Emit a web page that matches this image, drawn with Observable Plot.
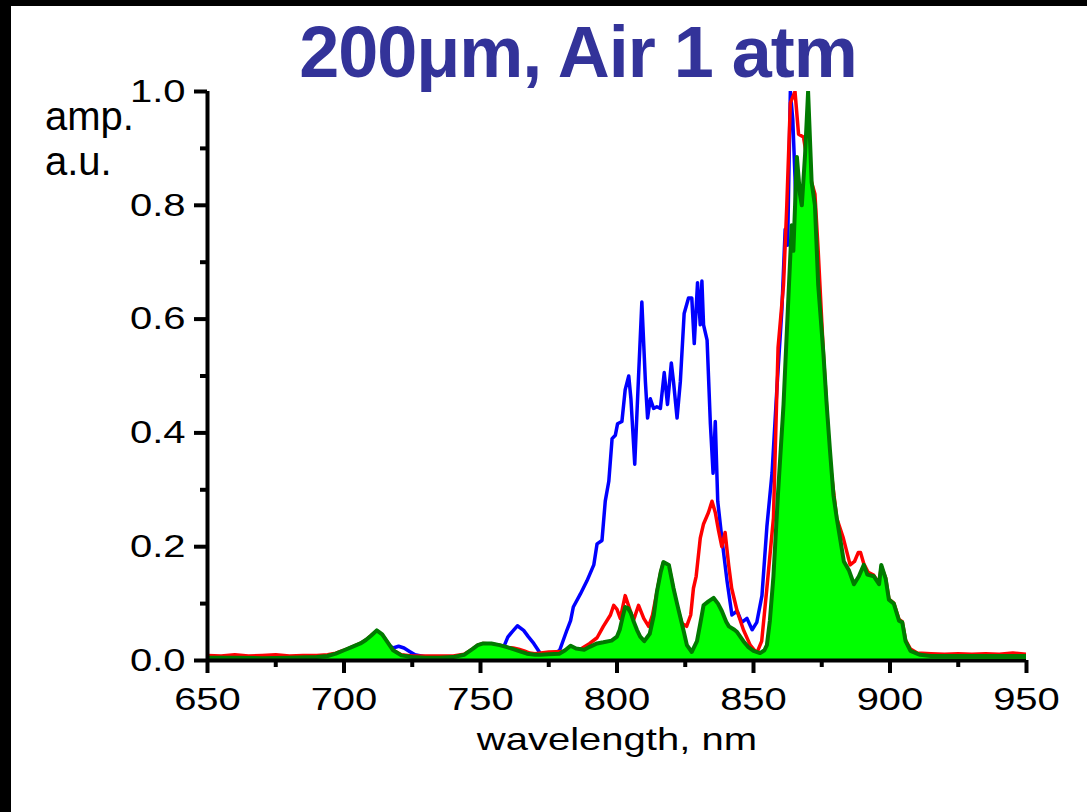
<!DOCTYPE html>
<html>
<head>
<meta charset="utf-8">
<script src="https://cdn.jsdelivr.net/npm/d3@7"></script>
<script src="https://cdn.jsdelivr.net/npm/@observablehq/plot@0.6"></script>
<style>
  html, body { margin: 0; padding: 0; background: #fff; }
  #wrap { position: relative; width: 1087px; height: 812px; overflow: hidden; font-family: "Liberation Sans", Arial, sans-serif; }
  #wrap svg { position: absolute; left: 0; top: 0; }
  .bar-top { position: absolute; left: 0; top: 0; width: 1087px; height: 6px; background: #000; }
  .bar-left { position: absolute; left: 0; top: 0; width: 11px; height: 812px; background: #000; }
  #title { position: absolute; left: 0; width: 1156px; top: 12px; text-align: center; font-weight: bold; font-size: 72px; color: #333399; line-height: 80px; letter-spacing: -1px; }
  .ylab { position: absolute; left: 45px; font-size: 40px; color: #000; line-height: 44px; }
  #xlabel { position: absolute; left: 207px; width: 819px; top: 721px; text-align: center; font-size: 32px; color: #000; line-height: 36px; transform: scaleX(1.25); transform-origin: 408px 50%; }
</style>
</head>
<body>
<div id="wrap">
  <div id="chart"></div>
  <div class="bar-top"></div>
  <div class="bar-left"></div>
  <div id="title">200μm, Air 1 atm</div>
  <div class="ylab" style="top:94px">amp.</div>
  <div class="ylab" style="top:139px">a.u.</div>
  <div id="xlabel">wavelength, nm</div>
</div>
<script>
// ---- data ----
const xMajorTicks = [650, 700, 750, 800, 850, 900, 950];
const xMinorTicks = [675, 725, 775, 825, 875, 925];
const yMajorTicks = [0, 0.2, 0.4, 0.6, 0.8, 1.0];
const yMinorTicks = [0.1, 0.3, 0.5, 0.7, 0.9];

const blueNm  = [650,670,690,700,710,716,718,720,722,724,726,730,740,750,755,757.3,760,761.5,763.5,765.8,767.5,769.5,772,774,776.8,779,781.7,783,784,786.6,789,791.5,792.7,794.5,795.7,797,798.2,799.4,800.2,801.8,803,804.3,805.1,806.5,807.9,809.1,810.4,811.2,812.2,813.4,814.6,815.9,817.3,818.5,819.9,820.7,822,823.2,824.6,826.2,827.4,828.3,829.5,830.5,831.1,831.7,833,834.2,835.2,836,836.9,838.4,840.3,842.1,844,845.7,847.6,849.5,851.2,853.1,854.9,856.8,858.6,860.4,861.6,862.5,863.5,864.4,865.2,866.1,867.1,868,870,875,880,885,890,895,900,905,910,920,935,950];
const blueAmp = [0.005,0.005,0.005,0.012,0.03,0.028,0.022,0.025,0.022,0.016,0.010,0.006,0.006,0.008,0.008,0.010,0.041,0.050,0.061,0.053,0.042,0.030,0.012,0.010,0.010,0.018,0.054,0.070,0.094,0.117,0.140,0.168,0.205,0.211,0.280,0.315,0.390,0.396,0.416,0.420,0.476,0.500,0.460,0.345,0.500,0.630,0.490,0.426,0.460,0.443,0.446,0.443,0.506,0.450,0.523,0.490,0.426,0.490,0.610,0.637,0.637,0.557,0.664,0.590,0.667,0.590,0.563,0.416,0.329,0.420,0.280,0.215,0.140,0.080,0.087,0.067,0.074,0.054,0.067,0.114,0.235,0.330,0.480,0.617,0.758,0.730,1.000,0.950,0.850,0.680,0.416,0.300,0.280,0.250,0.200,0.140,0.130,0.120,0.090,0.030,0.008,0.006,0.006,0.006];

const redNm  = [650,655,660,665,670,675,680,685,690,694,697,700,703,706,708,710,712,714,716,718,721,725,730,735,740,744,747,749,751,754,757,760,762,764,766,768,770,775,780,784,786.6,790,792.7,795,797.6,798.8,800,801.2,803,804.9,806,807.9,809.8,811.6,813,814.6,816,817,819,820.7,822,823.8,825.5,827,828,829,830.5,831.7,833.5,834.8,836,837.2,838.4,839.6,840.9,842,844,846.3,848.8,851.2,853,854.9,857.3,859,861,862.2,863.5,865.2,866.5,868.3,869.5,871.3,872.5,873.7,875.6,878,880.5,882.9,885.4,887,888.4,889.2,890.4,892,894,896,896.8,898.4,899.6,901.4,903.3,904.5,905.7,907.5,910,915,920,925,930,935,940,945,950];
const redAmp = [0.009,0.008,0.010,0.008,0.009,0.010,0.008,0.009,0.009,0.010,0.013,0.018,0.024,0.030,0.036,0.044,0.052,0.045,0.031,0.018,0.010,0.008,0.008,0.008,0.008,0.011,0.020,0.027,0.030,0.029,0.027,0.023,0.022,0.020,0.017,0.013,0.012,0.015,0.016,0.017,0.020,0.030,0.040,0.060,0.080,0.097,0.090,0.074,0.114,0.087,0.070,0.097,0.074,0.060,0.080,0.120,0.155,0.172,0.166,0.125,0.095,0.065,0.060,0.080,0.127,0.148,0.215,0.240,0.260,0.280,0.260,0.228,0.200,0.225,0.168,0.127,0.087,0.054,0.027,0.013,0.034,0.127,0.250,0.550,0.660,0.800,0.980,1.000,0.925,0.920,0.885,0.840,0.820,0.720,0.540,0.350,0.250,0.215,0.168,0.174,0.190,0.190,0.170,0.155,0.150,0.136,0.165,0.145,0.108,0.101,0.072,0.068,0.036,0.020,0.013,0.012,0.011,0.012,0.011,0.012,0.011,0.013,0.011];

const greenNm  = [650,660,670,680,690,694,697,700,703,706,708,710,712,714,716,718,721,725,730,735,740,744,747,749,751,754,757,760,762,765,767,770,772,775,779,781,783,785,788,790,792.7,795,798,800,801,802,803,804,805,806,807.3,808.5,810,812,813.5,814.6,816,817,819,820.7,822,823,824.5,825.6,827.4,829.3,830.5,831.7,833.5,835.4,837,838.4,840,841,843,844,846.3,848,850,852.4,854,854.9,856,857.3,859,861,862.8,864,864.6,865.9,867,867.7,868.9,870,871.3,872.5,873.7,875.6,876.8,878,879.3,880.5,881.7,883.1,885,886.8,888.6,890.4,891.7,894.1,896,896.8,898.4,899.6,901.4,903.3,904.5,905.7,907.5,911,915,925,935,945,950];
const greenAmp = [0.005,0.005,0.004,0.005,0.006,0.008,0.012,0.018,0.024,0.030,0.036,0.044,0.053,0.046,0.032,0.018,0.009,0.006,0.005,0.005,0.006,0.010,0.020,0.027,0.030,0.030,0.027,0.023,0.020,0.015,0.012,0.010,0.010,0.011,0.012,0.018,0.026,0.021,0.019,0.024,0.030,0.032,0.035,0.042,0.054,0.075,0.094,0.092,0.084,0.070,0.054,0.042,0.034,0.047,0.080,0.120,0.155,0.173,0.168,0.127,0.100,0.080,0.050,0.027,0.015,0.034,0.065,0.097,0.104,0.110,0.100,0.087,0.068,0.060,0.054,0.050,0.034,0.024,0.017,0.013,0.018,0.027,0.070,0.148,0.295,0.450,0.640,0.765,0.720,0.885,0.820,0.800,0.890,1.000,0.840,0.800,0.660,0.540,0.450,0.370,0.290,0.250,0.215,0.174,0.158,0.134,0.148,0.168,0.151,0.148,0.134,0.168,0.144,0.107,0.100,0.070,0.067,0.034,0.017,0.010,0.008,0.008,0.008,0.008,0.008];

const toRows = (xs, ys) => xs.map((x, i) => ({nm: x, amp: ys[i]}));
const blue = toRows(blueNm, blueAmp);
const red = toRows(redNm, redAmp);
const green = toRows(greenNm, greenAmp);

const chart = Plot.plot({
  width: 1087,
  height: 812,
  marginLeft: 207,
  marginRight: 61,
  marginTop: 91,
  marginBottom: 152,
  style: {fontFamily: "'Liberation Sans', Arial, sans-serif", color: "#000", background: "transparent", overflow: "visible"},
  x: {domain: [650, 950]},
  y: {domain: [0, 1]},
  marks: [
    Plot.lineY(blue, {x: "nm", y: "amp", stroke: "#0000ff", strokeWidth: 3.5, clip: true}),
    Plot.lineY(red, {x: "nm", y: "amp", stroke: "#ff0000", strokeWidth: 3.5, clip: true}),
    Plot.areaY(green, {x: "nm", y: "amp", fill: "#00ff00", clip: true}),
    Plot.lineY(green, {x: "nm", y: "amp", stroke: "#007a00", strokeWidth: 4, clip: true}),
    Plot.axisX({ticks: xMajorTicks, tickSize: 13, tickPadding: 14, fontSize: 32, strokeWidth: 4, label: null}),
    Plot.axisX({ticks: xMinorTicks, tickSize: 7, tickFormat: () => "", strokeWidth: 4, label: null}),
    Plot.axisY({ticks: yMajorTicks, tickSize: 13, tickPadding: 9, fontSize: 32, strokeWidth: 4, tickFormat: d3.format(".1f"), label: null}),
    Plot.axisY({ticks: yMinorTicks, tickSize: 7, tickFormat: () => "", strokeWidth: 4, label: null}),
    Plot.ruleY([0], {strokeWidth: 4}),
    Plot.ruleX([650], {strokeWidth: 4})
  ]
});
document.getElementById("chart").appendChild(chart);
// tick labels in the reference are horizontally stretched; widen each about its own anchor
const stretch = (sel, anchor) => chart.querySelectorAll(sel).forEach(t => {
  const b = t.getBBox();
  if (!b.width) return;
  const ax = anchor === "end" ? b.x + b.width : b.x + b.width / 2;
  const tr = t.getAttribute("transform") || "";
  t.setAttribute("transform", `${tr} translate(${ax},0) scale(1.25,1) translate(${-ax},0)`);
});
stretch('g[aria-label="x-axis tick label"] text', "middle");
stretch('g[aria-label="y-axis tick label"] text', "end");
</script>
</body>
</html>
